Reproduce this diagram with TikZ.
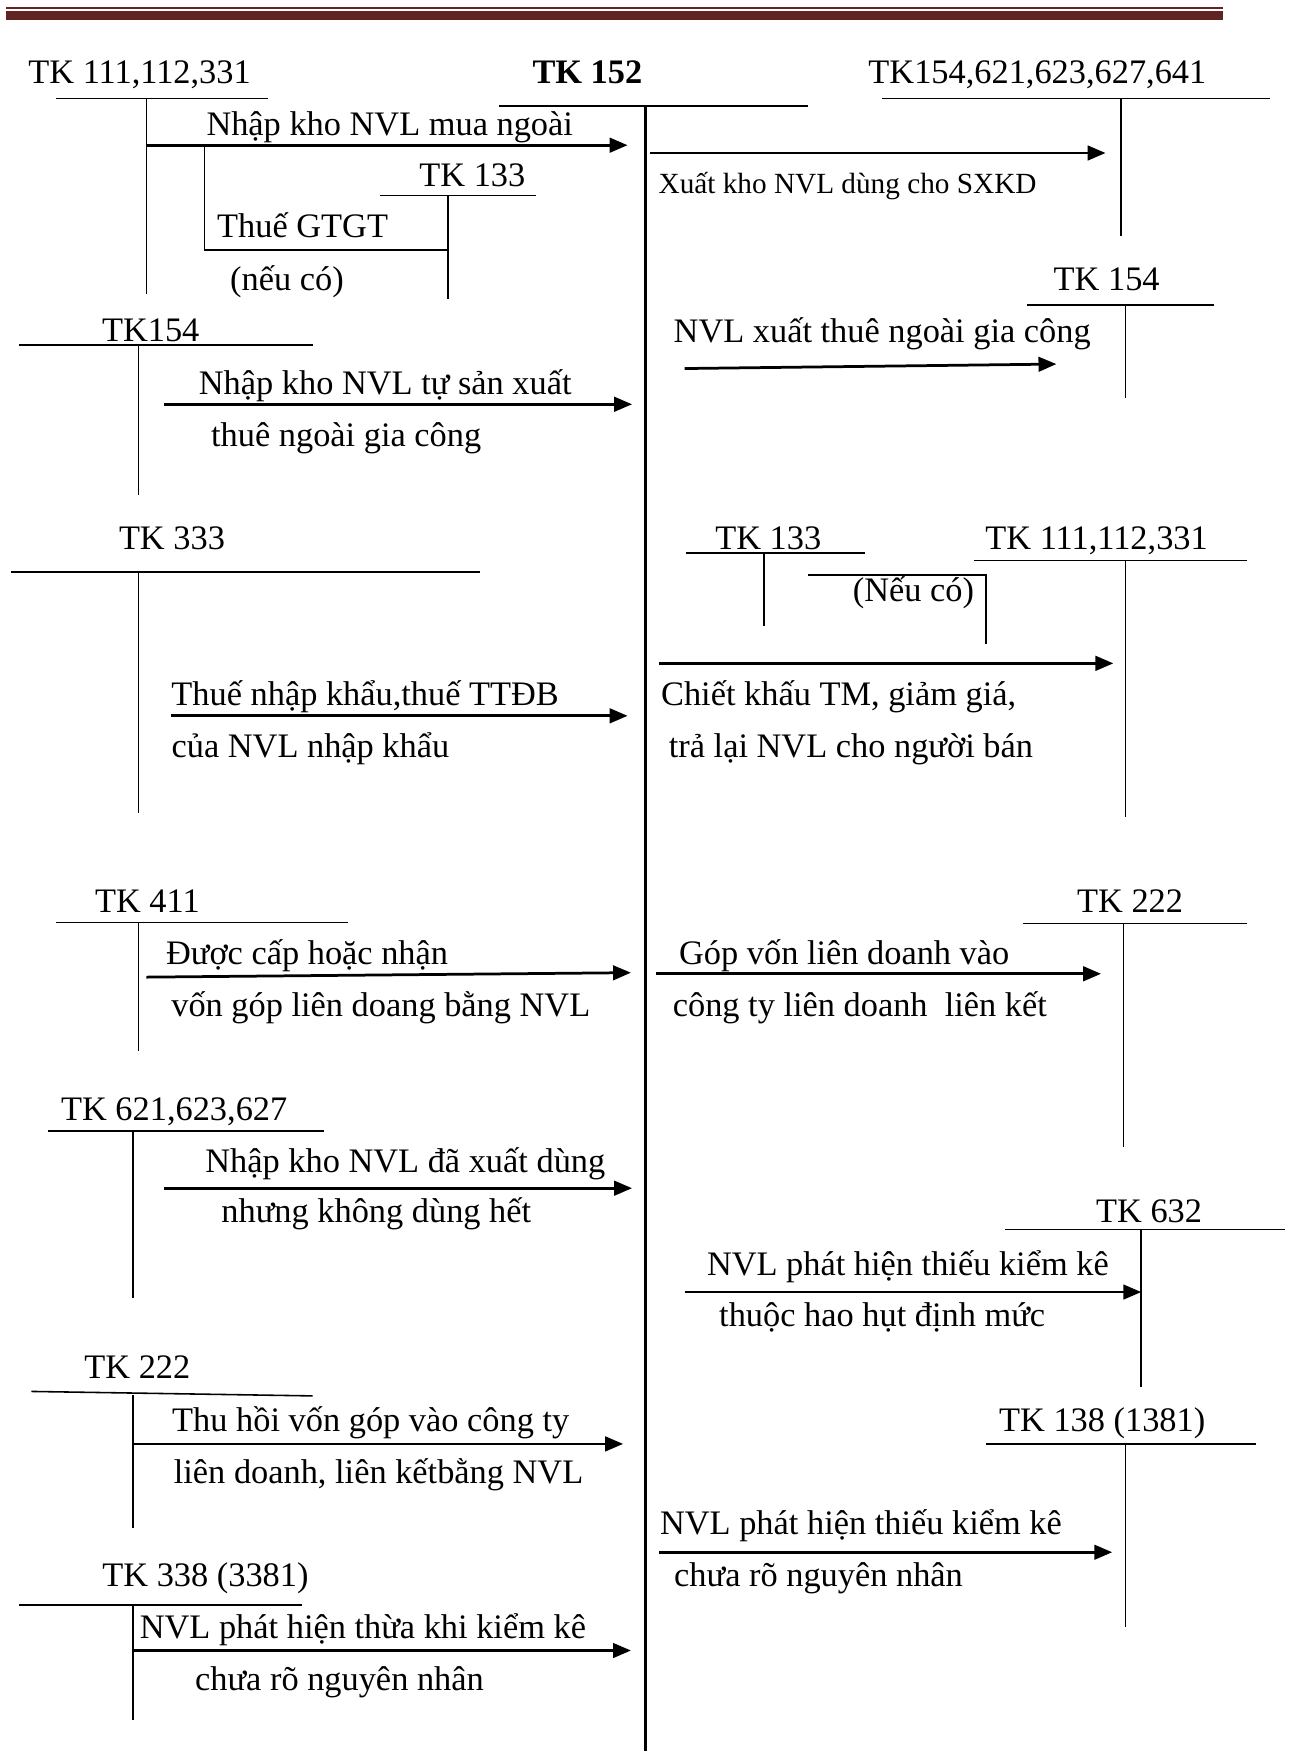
\documentclass[tikz,border=0pt]{standalone}
\usepackage{fontspec}
\setmainfont{Liberation Serif}
\usetikzlibrary{arrows.meta}
\definecolor{hdr}{HTML}{622423}

\begin{document}
\begin{tikzpicture}[
    x=0.01cm, y=-0.01cm,
    every node/.style={font=\fontsize{8.75}{10}\selectfont, inner sep=0pt, anchor=base},
    acct/.style={},
    main/.style={font=\bfseries\fontsize{8.75}{10}\selectfont},
    small/.style={font=\fontsize{7.45}{9}\selectfont},
    tline/.style={line width=0.4pt},
    mline/.style={line width=0.55pt},
    arr/.style={-{Triangle[length=1.6mm, width=1.3mm]}, line width=0.7pt}
]
    \useasboundingbox (0,0) rectangle (1154,1568);
    \fill[hdr] (5,6) rectangle (1095,8);
    \fill[hdr] (5,9.5) rectangle (1095,17.5);

    % TK 152
    \node[main] (tk152) at (526,75) {TK 152};
    \draw[mline] (447,95) -- (724,95);
    \draw[mline] (578,95) -- (578,1568);

    % accounts, left side
    \node[acct] (tk111a) at (125,75) {TK 111,112,331};
    \draw[tline] (50,88) -- (240,88);
    \draw[tline] (131,88) -- (131,263);
    \node[acct] (tk133a) at (423,167) {TK 133};
    \draw[tline] (340,175) -- (480,175);
    \draw[tline] (401,175) -- (401,268);
    \node[acct] (tk154a) at (135,306) {TK154};
    \draw[tline] (17,309) -- (280,309);
    \draw[tline] (124,309) -- (124,443);
    \node[acct] (tk333) at (154,492) {TK 333};
    \draw[tline] (10,512) -- (430,512);
    \draw[tline] (124,512) -- (124,728);
    \node[acct] (tk411) at (132,817) {TK 411};
    \draw[tline] (50,826) -- (312,826);
    \draw[tline] (124,826) -- (124,941);
    \node[acct] (tk621) at (156,1003) {TK 621,623,627};
    \draw[tline] (43,1013) -- (290,1013);
    \draw[tline] (119,1013) -- (119,1162);
    \node[acct] (tk222a) at (123,1234) {TK 222};
    \draw[tline] (28,1246) -- (280,1250);
    \draw[tline] (119,1249) -- (119,1368);
    \node[acct] (tk338) at (184,1421) {TK 338 (3381)};
    \draw[tline] (17,1437) -- (270,1437);
    \draw[tline] (119,1437) -- (119,1540);

    % accounts, right side
    \node[acct] (tk154b) at (929,75) {TK154,621,623,627,641};
    \draw[tline] (790,88) -- (1137,88);
    \draw[tline] (1004,88) -- (1004,211);
    \node[acct] (tk154c) at (991,260) {TK 154};
    \draw[tline] (920,273) -- (1087,273);
    \draw[tline] (1008,273) -- (1008,356);
    \node[acct] (tk133b) at (688,492) {TK 133};
    \draw[tline] (614,495) -- (775,495);
    \draw[tline] (684,495) -- (684,561);
    \node[acct] (tk111b) at (982,492) {TK 111,112,331};
    \draw[tline] (872,502) -- (1117,502);
    \draw[tline] (1008,502) -- (1008,732);
    \node[acct] (tk222b) at (1012,817) {TK 222};
    \draw[tline] (916,827) -- (1117,827);
    \draw[tline] (1006,827) -- (1006,1027);
    \node[acct] (tk632) at (1029,1095) {TK 632};
    \draw[tline] (900,1101) -- (1151,1101);
    \draw[tline] (1022,1101) -- (1022,1242);
    \node[acct] (tk138) at (987,1282) {TK 138 (1381)};
    \draw[tline] (883,1293) -- (1125,1293);
    \draw[tline] (1008,1293) -- (1008,1457);

    % entries into TK 152
    \coordinate (a1s) at (131,130);  \coordinate (a1e) at (562,130);
    \coordinate (b1) at (183,130);   \coordinate (b2) at (401,224);
    \coordinate (a2s) at (147,362);  \coordinate (a2e) at (566,362);
    \coordinate (a3s) at (153,641);  \coordinate (a3e) at (562,641);
    \coordinate (a4s) at (131,875);  \coordinate (a4e) at (565,871);
    \coordinate (a5s) at (147,1064); \coordinate (a5e) at (566,1064);
    \coordinate (a6s) at (119,1293); \coordinate (a6e) at (558,1293);
    \coordinate (a7s) at (119,1478); \coordinate (a7e) at (565,1478);

    \draw[arr] (a1s) -- (a1e);
    \draw[tline] (b1) |- (b2);
    \draw[arr] (a2s) -- (a2e);
    \draw[arr] (a3s) -- (a3e);
    \draw[arr] (a4s) -- (a4e);
    \draw[arr] (a5s) -- (a5e);
    \draw[arr] (a6s) -- (a6e);
    \draw[arr] (a7s) -- (a7e);

    \node (l1) at (349,121) {Nhập kho NVL mua ngoài};
    \node (l1a) at (271,213) {Thuế GTGT};
    \node (l1b) at (257,260) {(nếu có)};
    \node (l2) at (345,353) {Nhập kho NVL tự sản xuất};
    \node (l2b) at (310,400) {thuê ngoài gia công};
    \node (l3) at (327,632) {Thuế nhập khẩu,thuế TTĐB};
    \node (l3b) at (278,678) {của NVL nhập khẩu};
    \node (l4) at (275,864) {Được cấp hoặc nhận};
    \node (l4b) at (341,910) {vốn góp liên doang bằng NVL};
    \node (l5) at (363,1050) {Nhập kho NVL đã xuất dùng};
    \node (l5b) at (337,1095) {nhưng không dùng hết};
    \node (l6) at (332,1282) {Thu hồi vốn góp vào công ty};
    \node (l6b) at (339,1328) {liên doanh, liên kếtbằng NVL};
    \node (l7) at (325,1467) {NVL phát hiện thừa khi kiểm kê};
    \node (l7b) at (304,1514) {chưa rõ nguyên nhân};

    % entries out of TK 152
    \coordinate (c1s) at (582,137);  \coordinate (c1e) at (990,137);
    \coordinate (c2s) at (613,330);  \coordinate (c2e) at (946,326);
    \coordinate (c3s) at (590,594);  \coordinate (c3e) at (997,594);
    \coordinate (d1) at (724,515);   \coordinate (d2) at (883,577);
    \coordinate (c4s) at (587,872);  \coordinate (c4e) at (986,872);
    \coordinate (c5s) at (613,1157); \coordinate (c5e) at (1022,1157);
    \coordinate (c6s) at (590,1390); \coordinate (c6e) at (996,1390);

    \draw[arr] (c1s) -- (c1e);
    \draw[arr] (c2s) -- (c2e);
    \draw[arr] (c3s) -- (c3e);
    \draw[tline] (d1) -| (d2);
    \draw[arr] (c4s) -- (c4e);
    \draw[arr] (c5s) -- (c5e);
    \draw[arr] (c6s) -- (c6e);

    \node[small] (r1) at (759,173) {Xuất kho NVL dùng cho SXKD};
    \node (r2) at (790,307) {NVL xuất thuê ngoài gia công};
    \node (r3a) at (818,539) {(Nếu có)};
    \node (r3) at (751,632) {Chiết khấu TM, giảm giá,};
    \node (r3b) at (762,678) {trả lại NVL cho người bán};
    \node (r4) at (756,864) {Góp vốn liên doanh vào};
    \node (r4b) at (770,910) {công ty liên doanh~ liên kết};
    \node (r5) at (813,1142) {NVL phát hiện thiếu kiểm kê};
    \node (r5b) at (790,1188) {thuộc hao hụt định mức};
    \node (r6) at (771,1374) {NVL phát hiện thiếu kiểm kê};
    \node (r6b) at (733,1421) {chưa rõ nguyên nhân};
\end{tikzpicture}
\end{document}
